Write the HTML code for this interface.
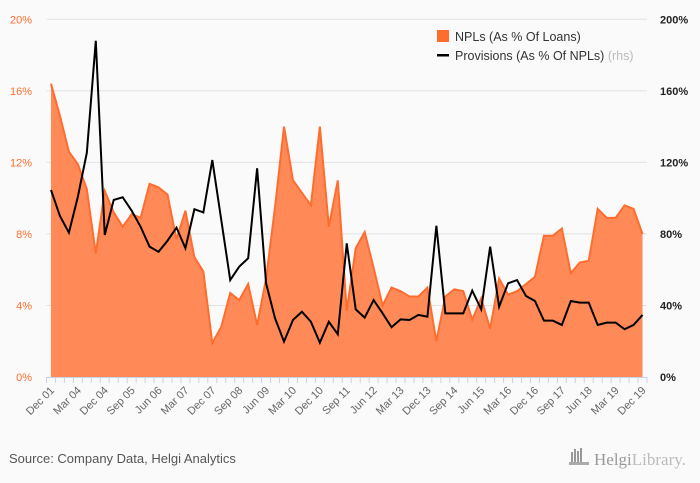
<!DOCTYPE html>
<html><head><meta charset="utf-8"><style>
body{margin:0;background:#fafafa;}
svg{display:block;font-family:"Liberation Sans",sans-serif;}
</style></head><body>
<svg id="chart" width="700" height="483" viewBox="0 0 700 483">
<rect x="0" y="0" width="700" height="483" fill="#fafafa"/>
<g id="grid"></g>
<g id="area"></g>
<g id="line"></g>
<g id="axes"></g>
<g>
<g>
<rect x="437" y="30" width="12" height="12" fill="#ff6d2e"/>
<text x="455" y="41" font-size="12.5" fill="#333">NPLs (As % Of Loans)</text></g>
<g>
<rect x="437" y="54" width="12" height="2.5" fill="#000"/>
<text x="455" y="60" font-size="12.5" fill="#333">Provisions (As % Of NPLs) <tspan fill="#bbb">(rhs)</tspan></text></g>
</g>
<text x="9" y="463" font-size="13" fill="#555">Source: Company Data, Helgi Analytics</text>
<g>
<rect x="571" y="452" width="2" height="10" fill="#999"/><rect x="574" y="449" width="2" height="13" fill="#999"/><rect x="577" y="451" width="2" height="11" fill="#999"/><rect x="580" y="448" width="2" height="14" fill="#999"/><rect x="569" y="462" width="20" height="3" fill="#aaa"/>
<text x="594" y="465" font-size="17" fill="#999" font-family="Liberation Serif,serif">Helgi<tspan fill="#bbb">Library.</tspan></text>
</g>
</svg>
<script>
const categories=["Dec 01","Dec 02","Dec 03"];
(function(){const m=["Mar","Jun","Sep","Dec"];for(let y=4;y<=19;y++)for(const q of m)categories.push(q+" "+String(y).padStart(2,"0"));})();
const nplValues=[16.4,14.6,12.6,11.9,10.5,6.9,10.4,9.2,8.4,9.1,8.9,10.8,10.6,10.2,7.7,9.3,6.7,5.9,1.9,2.8,4.7,4.3,5.2,2.9,5.5,9.5,14.0,11.0,10.3,9.6,14.0,8.4,11.0,3.7,7.2,8.1,6.1,4.0,5.0,4.8,4.5,4.5,5.0,2.0,4.5,4.9,4.8,3.2,4.4,2.7,5.5,4.6,4.8,5.2,5.6,7.9,7.9,8.3,5.8,6.4,6.5,9.4,8.9,8.9,9.6,9.4,8.0];
const provisionValues=[104.6,90,80.7,100.8,125.4,188,79.4,99,100.5,93,84,72.9,70,76.2,83.5,72,93.8,92,121.3,87.8,54.2,61.7,66.4,116.7,52.4,32.8,19.8,31.9,36.5,30.9,19.2,30.9,23.9,74.7,37.8,33.2,43,35.6,27.8,32.2,31.9,34.7,33.7,84.6,35.6,35.6,35.6,48.3,37.8,72.9,39.3,52.4,54.2,45.3,42.5,31.5,31.5,29.1,42.5,41.6,41.6,29.1,30.4,30.4,26.7,29.1,34.7];
const leftTicks=[0,4,8,12,16,20];
const rightTicks=[0,40,80,120,160,200];
const NS="http://www.w3.org/2000/svg";
const X0=46.5,X1=647,Y0=377,Y1=19.3;
const band=(X1-X0)/categories.length;
const xs=i=>X0+band*(i+0.5);
const yl=v=>Y0-(v/20)*(Y0-Y1);
const yr=v=>Y0-(v/200)*(Y0-Y1);
function mk(t,a,p){const e=document.createElementNS(NS,t);for(const k in a)e.setAttribute(k,a[k]);p.appendChild(e);return e;}
const grid=document.getElementById('grid'),axes=document.getElementById('axes');
leftTicks.forEach((t,i)=>{const y=yl(t);
 if(t>0){const g=mk('line',{x1:X0,x2:X1,y1:y,y2:y,stroke:'#e2e2e2','stroke-width':1},grid);
 
 }
 const tx=mk('text',{x:32,y:y+4,'font-size':11,fill:'#ff6d2e','text-anchor':'end'},axes);tx.textContent=t+'%';
 
 
});
rightTicks.forEach(t=>{const y=yr(t);
 const tx=mk('text',{x:660,y:y+4,'font-size':11,fill:'#222','font-weight':'bold'},axes);tx.textContent=t+'%';
 
 
});
mk('line',{x1:X0,x2:X1,y1:Y0+0.5,y2:Y0+0.5,stroke:'#c8d3ea'},axes);
for(let i=0;i<=categories.length;i++){const x=X0+band*i;mk('line',{x1:x,x2:x,y1:Y0,y2:Y0+6,stroke:'#c8d3ea'},axes);}
categories.forEach((c,i)=>{if(i%3)return;const x=xs(i);
 const tx=mk('text',{x:x+4,y:Y0+14,'font-size':11,fill:'#666','text-anchor':'end',transform:`rotate(-45 ${x+4} ${Y0+14})`},axes);tx.textContent=c;
 
 
});
let d=`M${xs(0)},${Y0}`;nplValues.forEach((v,i)=>d+=`L${xs(i)},${yl(v)}`);d+=`L${xs(nplValues.length-1)},${Y0}Z`;
const a=mk('path',{d,fill:'#ff8a58'},document.getElementById('area'));


const l1=mk('polyline',{points:nplValues.map((v,i)=>xs(i)+','+yl(v)).join(' '),fill:'none',stroke:'#ff6d2e','stroke-width':2},document.getElementById('area'));


const l2=mk('polyline',{points:provisionValues.map((v,i)=>xs(i)+','+yr(v)).join(' '),fill:'none',stroke:'#000','stroke-width':2,'stroke-linejoin':'miter'},document.getElementById('line'));


</script>
</body></html>
